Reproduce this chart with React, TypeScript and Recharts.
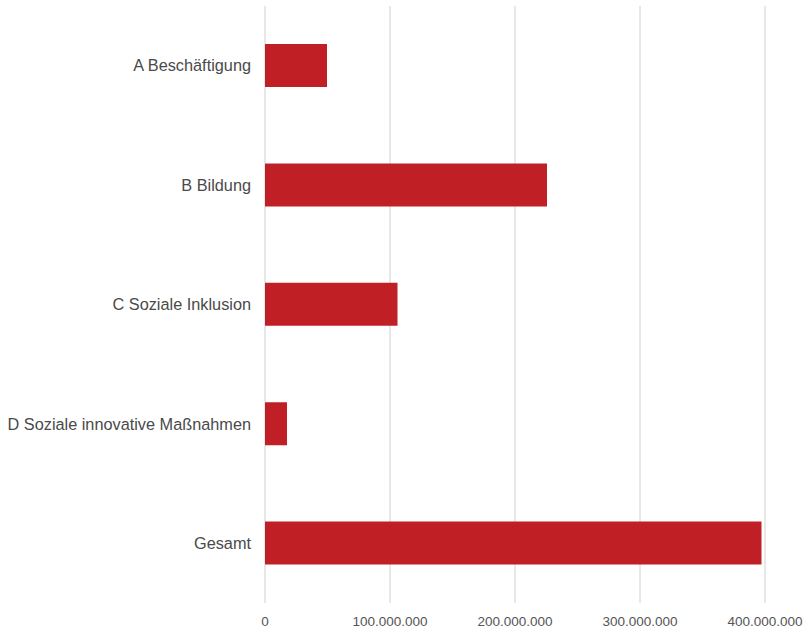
import React from 'react';
import { BarChart, Bar, XAxis, YAxis, CartesianGrid } from 'recharts';

const categories = [
  'A Beschäftigung',
  'B Bildung',
  'C Soziale Inklusion',
  'D Soziale innovative Maßnahmen',
  'Gesamt',
];
const amounts = [49600000, 225600000, 106000000, 17600000, 397200000];
const xTicks = [0, 100000000, 200000000, 300000000, 400000000];

const data = categories.map((name, i) => ({ name, value: amounts[i] }));

const fmt = (v: number) => String(Math.round(v)).replace(/\B(?=(\d{3})+(?!\d))/g, '.');

const App = () => {
  return (
    <div style={{ position: 'absolute', left: 0, top: 0, background: '#fff' }}>
      <BarChart
        width={806}
        height={632}
        data={data}
        layout="vertical"
        margin={{ top: 6, right: 41, bottom: 0, left: 0 }}
        barSize={43}
      >
        <CartesianGrid horizontal={false} stroke="#d0d0d0" strokeWidth={1} />
        <XAxis
          type="number"
          domain={[0, 400000000]}
          ticks={xTicks}
          tickFormatter={fmt}
          axisLine={false}
          tickLine={false}
          height={29}
          tickMargin={7}
          interval={0}
          tick={{ fill: '#555', fontSize: 13.5, fontFamily: 'Liberation Sans, Arial, sans-serif' }}
        />
        <YAxis
          type="category"
          dataKey="name"
          width={265}
          axisLine={false}
          tickLine={false}
          tickMargin={8}
          interval={0}
          tick={{ fill: '#4a4a4a', fontSize: 16.3, fontFamily: 'Liberation Sans, Arial, sans-serif' }}
        />
        <Bar dataKey="value" fill="#c01f26" isAnimationActive={false} />
      </BarChart>
    </div>
  );
};

export default App;
